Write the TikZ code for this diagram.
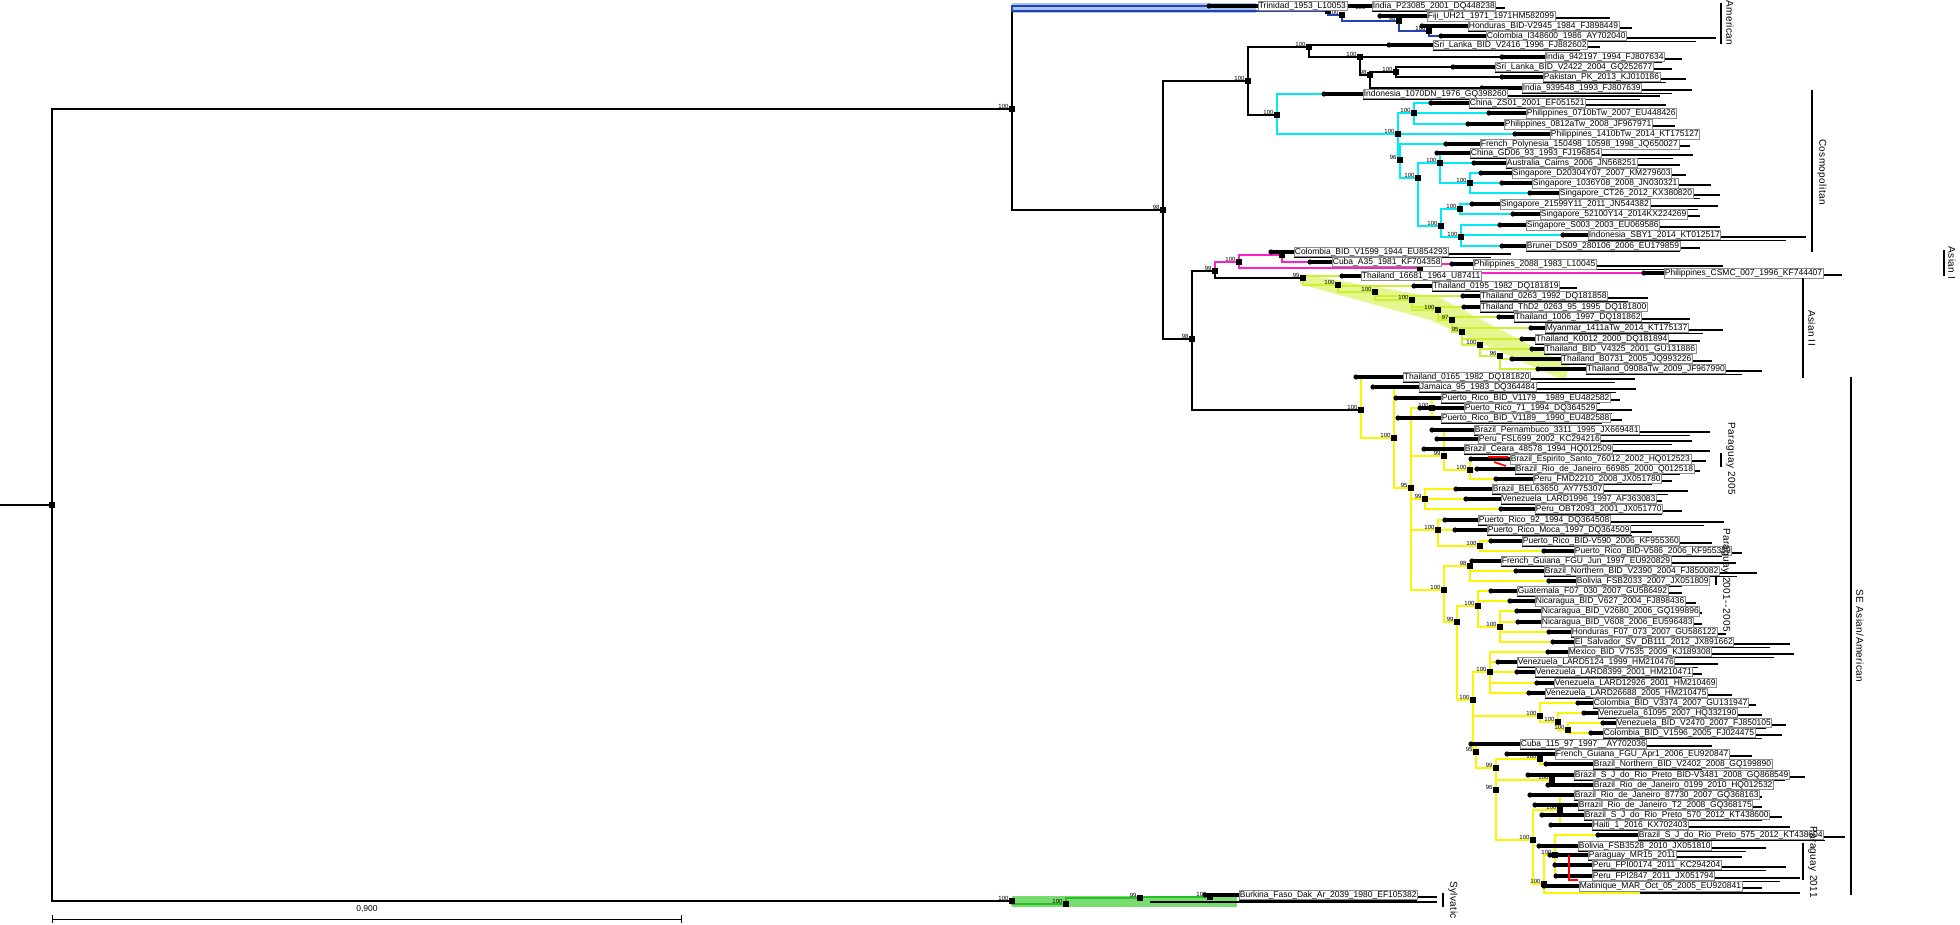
\documentclass[tikz,border=0pt]{standalone}
\usepackage{fontspec}
\setmainfont{Liberation Sans}
\newfontfamily\cladefont[LetterSpace=4]{Liberation Sans}
\pgfdeclarelayer{band}
\pgfdeclarelayer{edge}
\pgfdeclarelayer{bar}
\pgfsetlayers{band,edge,bar,main}
\definecolor{amblue}{RGB}{35,65,175}
\definecolor{amband}{RGB}{170,195,240}
\definecolor{coscyan}{RGB}{0,235,245}
\definecolor{asimag}{RGB}{255,30,200}
\definecolor{asiigrn}{RGB}{205,240,50}
\definecolor{seyel}{RGB}{250,245,0}
\definecolor{sylgrn}{RGB}{40,190,40}
\definecolor{sylband}{RGB}{120,220,110}

\begin{document}
\begin{tikzpicture}[
    x=1pt, y=-1pt, line join=miter,
    br/.style={line width=1.3pt},
    cl/.style={line width=1.8pt},
    sq/.style={fill=black, inner sep=0pt, minimum size=5.5pt},
    bs/.style={font=\fontsize{6}{6}\selectfont, inner sep=0.4pt, anchor=south east},
    tx/.style={font=\fontsize{8.5}{9}\selectfont, fill=white, draw=black!45, line width=0.3pt, inner sep=0.7pt, anchor=west},
    clade/.style={font=\cladefont\fontsize{10}{10}\selectfont, rotate=-90, anchor=south, inner sep=1pt},
    brk/.style={line width=1.5pt},
    ]
    \useasboundingbox (0,0) rectangle (1960,924);

    % 1. INTERNAL NODES AND SUPPORT VALUES
    \node[sq] (root) at (52,505) {};
    \coordinate (stub) at (0,505);
    \coordinate (nAm) at (1012,8);
    \node[sq] (a1) at (1328,11) {};
    \node[bs] (b-a1) at (1366,10) {100};
    \foreach \n/\x/\y/\b in {nTop/1012/109/100, nSyl/1012/901/100, nA98/1163/210/98, nIC/1248/81/100,
        nB98/1192/339/98, nInd/1309/47/100, nCos/1277/115/100, nAsI/1215/271/99, nAsII/1303/278/99,
        nMg/1239/262/100, a2/1342/15/100, a3/1399/21/98, a4/1429/31/100,
        i1/1360/57/100, i2/1370/75/98, i3/1396/72/100,
        c1/1398/134/100, c2/1414/113/100, c3/1400/160/96, c4/1418/178/100, c5/1440/163/100,
        c5a/1470/183/100, c6/1441/226/100, c7/1460/209/100, c8/1461/237/100,
        m1/1282/255/100, m2/1420/268/100,
        g1/1338/285/100, g2/1375/292/100, g3/1412/300/100, g4/1438/310/100, g5/1452/320/97,
        g6/1462/332/95, g7/1480/345/100, g8/1500/356/96,
        S0/1361/410/100, S1/1394/438/100, S2/1411/488/95, S3/1432/408/100, S4/1444/456/99,
        S4a/1470/470/100, S5/1425/499/99, S6/1438/530/100, S6a/1480/546/100, S7/1444/590/100,
        S8/1470/566/98, S9/1457/622/99, S10/1478/606/100, S10a/1500/627/100, S11/1473/700/100,
        S11a/1490/672/100, S12/1540/716/100, S12a/1558/722/100, S12b/1568/730/100, S13/1476/752/95,
        S15/1496/768/99, S16/1540/759/100, S17/1496/790/96, S18/1552/780/100, S19/1533/840/100,
        S19a/1560/810/100, S20/1544/884/100, S21/1555/855/100,
        y1/1066/904/100, y2/1140/898/99, y3/1210/897/100}{
        \node[sq] (\n) at (\x,\y) {};
        \node[bs] (b-\n) at (\n.west) {\b};
    }

    % 2. TAXA WITH THEIR TERMINAL BARS
    \foreach \x/\y/\t/\e [count=\n] in {
        1258/6/Trinidad\_1953\_L10053/0,
        1372/6/India\_P23085\_2001\_DQ448238/1505,
        1427/16/Fiji\_UH21\_1971\_1971HM582099/1610,
        1468/26/Honduras\_BID-V2945\_1984\_FJ898449/1632,
        1486/36/Colombia\_I348600\_1986\_AY702040/1716,
        1433/45/Sri\_Lanka\_BID\_V2416\_1996\_FJ882602/1600,
        1545/57/India\_942197\_1994\_FJ807634/1682,
        1495/67/Sri\_Lanka\_BID\_V2422\_2004\_GQ252677/1672,
        1543/77/Pakistan\_PK\_2013\_KJ010186/1686,
        1522/88/India\_939548\_1993\_FJ807639/1692,
        1363/94/Indonesia\_1070DN\_1976\_GQ398260/1660,
        1469/103/China\_ZS01\_2001\_EF051521/1666,
        1526/113/Philippines\_0710bTw\_2007\_EU448426/1662,
        1504/124/Philippines\_0812aTw\_2008\_JF967971/1675,
        1550/134/Philippines\_1410bTw\_2014\_KT175127/1600,
        1480/144/French\_Polynesia\_150498\_10598\_1998\_JQ650027/1690,
        1470/153/China\_GD06\_93\_1993\_FJ196854/1693,
        1506/163/Australia\_Cairns\_2006\_JN568251/1680,
        1512/173/Singapore\_D20304Y07\_2007\_KM279603/1686,
        1532/183/Singapore\_1036Y08\_2008\_JN030321/1711,
        1559/193/Singapore\_CT26\_2012\_KX380820/1720,
        1500/204/Singapore\_21599Y11\_2011\_JN544382/1718,
        1540/214/Singapore\_52100Y14\_2014KX224269/1700,
        1526/225/Singapore\_S003\_2003\_EU069586/1720,
        1588/235/Indonesia\_SBY1\_2014\_KT012517/1806,
        1526/246/Brunei\_DS09\_280106\_2006\_EU179859/1700,
        1294/252/Colombia\_BID\_V1599\_1944\_EU854293/1511,
        1332/262/Cuba\_A35\_1981\_KF704358/0,
        1473/264/Philippines\_2088\_1983\_L10045/1723,
        1664/273/Philippines\_CSMC\_007\_1996\_KF744407/1842,
        1361/276/Thailand\_16681\_1964\_U87411/0,
        1432/286/Thailand\_0195\_1982\_DQ181819/1577,
        1480/296/Thailand\_0263\_1992\_DQ181858/1648,
        1480/307/Thailand\_ThD2\_0263\_95\_1995\_DQ181800/1645,
        1514/317/Thailand\_1006\_1997\_DQ181862/1690,
        1545/328/Myanmar\_1411aTw\_2014\_KT175137/1723,
        1535/339/Thailand\_K0012\_2000\_DQ181894/1700,
        1544/349/Thailand\_BID\_V4325\_2001\_GU131886/1690,
        1561/359/Thailand\_B0731\_2005\_JQ993226/1712,
        1586/369/Thailand\_0908aTw\_2009\_JF967990/1762,
        1403/377/Thailand\_0165\_1982\_DQ181820/1635,
        1419/387/Jamaica\_95\_1983\_DQ364484/1636,
        1441/398/Puerto\_Rico\_BID\_V1179\_\_1989\_EU482582/1620,
        1464/408/Puerto\_Rico\_71\_1994\_DQ364529/1632,
        1441/418/Puerto\_Rico\_BID\_V1189\_\_1990\_EU482588/1622,
        1474/430/Brazil\_Pernambuco\_3311\_1995\_JX669481/1710,
        1478/439/Peru\_FSL699\_2002\_KC294216/1692,
        1464/449/Brazil\_Ceara\_48578\_1994\_HQ012509/1710,
        1510/459/Brazil\_Espirito\_Santo\_76012\_2002\_HQ012523/1706,
        1515/469/Brazil\_Rio\_de\_Janeiro\_66985\_2000\_Q012518/1700,
        1533/479/Peru\_FMD2210\_2008\_JX051780/1672,
        1492/489/Brazil\_BEL63650\_AY775307/1688,
        1501/499/Venezuela\_LARD1996\_1997\_AF363083/1662,
        1535/509/Peru\_OBT2093\_2001\_JX051770/1682,
        1478/520/Puerto\_Rico\_92\_1994\_DQ364508/1724,
        1487/530/Puerto\_Rico\_Moca\_1997\_DQ364509/1652,
        1522/541/Puerto\_Rico\_BID-V590\_2006\_KF955360/1712,
        1574/551/Puerto\_Rico\_BID-V586\_2006\_KF955359/1742,
        1501/561/French\_Guiana\_FGU\_Jun\_1997\_EU920829/1736,
        1544/571/Brazil\_Northern\_BID\_V2390\_2004\_FJ850082/1757,
        1576/581/Bolivia\_FSB2033\_2007\_JX051809/1702,
        1517/591/Guatemala\_F07\_030\_2007\_GU586492/1682,
        1535/601/Nicaragua\_BID\_V627\_2004\_FJ898436/1696,
        1541/611/Nicaragua\_BID\_V2680\_2006\_GQ199896/1702,
        1541/622/Nicaragua\_BID\_V608\_2006\_EU596483/1702,
        1571/632/Honduras\_F07\_073\_2007\_GU586122/1726,
        1574/642/El\_Salvador\_SV\_DB111\_2012\_JX891662/1790,
        1568/652/Mexico\_BID\_V7535\_2009\_KJ189308/1794,
        1517/662/Venezuela\_LARD5124\_1999\_HM210476/1718,
        1535/672/Venezuela\_LARD8399\_2001\_HM210471/1702,
        1554/683/Venezuela\_LARD12926\_2001\_HM210469/1712,
        1545/693/Venezuela\_LARD26688\_2005\_HM210475/1732,
        1593/703/Colombia\_BID\_V3374\_2007\_GU131947/1756,
        1598/713/Venezuela\_61095\_2007\_HQ332190/1762,
        1616/723/Venezuela\_BID\_V2470\_2007\_FJ850105/1786,
        1603/733/Colombia\_BID\_V1596\_2005\_FJ024475/1782,
        1520/744/Cuba\_115\_97\_1997\_\_AY702036/1712,
        1555/754/French\_Guiana\_FGU\_Apr1\_2006\_EU920847/1752,
        1593/764/Brazil\_Northern\_BID\_V2402\_2008\_GQ199890/1722,
        1574/775/Brazil\_S\_J\_do\_Rio\_Preto\_BID-V3481\_2008\_GQ868549/1805,
        1593/785/Brazil\_Rio\_de\_Janeiro\_0199\_2010\_HQ012532/1772,
        1574/795/Brazil\_Rio\_de\_Janeiro\_87730\_2007\_GQ368163/1762,
        1578/805/Brrazil\_Rio\_de\_Janeiro\_T2\_2008\_GQ368175/1762,
        1584/815/Brazil\_S\_J\_do\_Rio\_Preto\_570\_2012\_KT438600/1782,
        1592/825/Haiti\_1\_2016\_KX702403/1790,
        1638/835/Brazil\_S\_J\_do\_Rio\_Preto\_575\_2012\_KT438604/1845,
        1578/846/Bolivia\_FSB3528\_2010\_JX051810/1766,
        1588/855/Paraguay\_MR15\_2011/1742,
        1592/865/Peru\_FPI00174\_2011\_KC294204/1786,
        1592/876/Peru\_FPI2847\_2011\_JX051794/1800,
        1579/886/Matinique\_MAR\_Oct\_05\_2005\_EU920841/1762,
        1239/895/Burkina\_Faso\_Dak\_Ar\_2039\_1980\_EF105382/1437}{
        \node[tx] (t\n) at (\x,\y) {\t};
        \pgfmathtruncatemacro\dd{12+mod(\n*37,38)}
        \begin{pgfonlayer}{bar}
            \draw[line width=3.4pt] ({\x-\dd},\y) -- (\x,\y);
            \fill ({\x-\dd},\y) circle (2.6pt);
            \ifnum\e>\x\relax
                \draw[line width=2.6pt] (\x,\y+2) -- (\e,\y+2);
                \draw[line width=1.4pt] (\x,\y+5.5) -- (\e-20,\y+5.5);
            \fi
        \end{pgfonlayer}
    }

    % 3. BRANCHES
    \begin{pgfonlayer}{band}
        \fill[amband] (1012,3) rectangle (1256,13);
        \fill[sylband] (1012,896) rectangle (1237,907);
        \fill[asiigrn!55] (1300,274) -- (1440,298) -- (1570,366) -- (1565,381) -- (1430,320) -- (1300,284) -- cycle;
    \end{pgfonlayer}
    \begin{pgfonlayer}{edge}
        \draw[br] (stub) -- (root);
        \foreach \p/\c in {root/nTop, root/nSyl, nTop/nAm, nTop/nA98, nA98/nIC, nA98/nB98,
            nIC/nInd, nIC/nCos, nB98/nAsI, nB98/S0, nAsI/nAsII,
            nInd/t6.west, nInd/i1, i1/t7.west, i1/i2, i2/t10.west, i2/i3, i3/t8.west, i3/t9.west}
            \draw[br] (\p) |- (\c);
        % American
        \foreach \p/\c in {nAm/t1.west, nAm/a1, a1/t2.west, a1/a2, a2/a3, a3/t3.west, a3/a4,
            a4/t4.west, a4/t5.west}
            \draw[cl, amblue] (\p) |- (\c);
        % Cosmopolitan
        \foreach \p/\c in {nCos/t11.west, nCos/c1, c1/c2, c1/t15.west, c1/c3, c2/t12.west,
            c2/t13.west, c2/t14.west, c3/t16.west, c3/c4, c4/c5, c4/c6, c5/t17.west, c5/t18.west,
            c5/c5a, c5a/t19.west, c5a/t20.west, c5a/t21.west, c6/c7, c6/c8, c7/t22.west,
            c7/t23.west, c8/t24.west, c8/t25.west, c8/t26.west}
            \draw[cl, coscyan] (\p) |- (\c);
        % Asian I
        \foreach \p/\c in {nAsI/nMg, nMg/m1, nMg/m2, m1/t27.west, m1/t28.west, m2/t29.west, m2/t30.west}
            \draw[cl, asimag] (\p) |- (\c);
        % Asian II
        \foreach \p/\c in {nAsII/t31.west, nAsII/g1, g1/t32.west, g1/g2, g2/t33.west, g2/g3,
            g3/t34.west, g3/g4, g4/t35.west, g4/g5, g5/t36.west, g5/g6, g6/t37.west, g6/g7,
            g7/t38.west, g7/g8, g8/t39.west, g8/t40.west}
            \draw[cl, asiigrn] (\p) |- (\c);
        % SE Asian/American
        \coordinate (se-end) at (1640,893);
        \coordinate (se-bar) at (1800,893);
        \foreach \p/\c in {S0/t41.west, S0/S1, S1/t42.west, S1/S2, S2/S3, S2/S4, S2/S5, S2/S6, S2/S7,
            S3/t43.west, S3/t44.west, S3/t45.west, S4/t46.west, S4/t47.west, S4/t48.west, S4/S4a,
            S4a/t49.west, S4a/t50.west, S4a/t51.west, S5/t52.west, S5/t53.west, S5/t54.west,
            S6/t55.west, S6/t56.west, S6/S6a, S6a/t57.west, S6a/t58.west, S7/S8, S7/S9,
            S8/t59.west, S8/t60.west, S8/t61.west, S9/S10, S9/S11, S10/t62.west, S10/t63.west,
            S10/S10a, S10a/t64.west, S10a/t65.west, S10a/t66.west, S10a/t67.west,
            S11/S11a, S11/S12, S11/S13, S11a/t68.west, S11a/t69.west, S11a/t70.west,
            S11a/t71.west, S11a/t72.west, S12/t73.west, S12/S12a, S12a/t74.west, S12a/S12b,
            S12b/t75.west, S12b/t76.west, S13/t77.west, S13/S15, S15/S16, S15/S17, S16/t78.west,
            S16/t79.west, S17/S18, S17/S19, S18/t80.west, S18/t81.west, S19/S19a, S19/S20,
            S19a/t82.west, S19a/t83.west, S19a/t84.west, S19a/t85.west, S20/S21, S20/t91.west,
            S20/se-end, S21/t86.west, S21/t87.west, S21/t88.west, S21/t89.west, S21/t90.west}
            \draw[cl, seyel] (\p) |- (\c);
        % Sylvatic
        \foreach \p/\c in {nSyl/y1, y1/y2, y2/y3, y3/t92.west}
            \draw[cl, sylgrn] (\p) |- (\c);
    \end{pgfonlayer}
    \begin{pgfonlayer}{bar}
        \draw[line width=2.6pt] (se-end) -- (se-bar);
        \draw[line width=2.6pt] (1150,902) -- (1437,902);
        \draw[line width=1.6pt, red] (1488,457) -- (1508,457) (1494,462) -- (1506,466);
        \draw[line width=1.2pt, red] (1569,855) -- (1569,880) -- (1578,880);
    \end{pgfonlayer}

    % 4. CLADE BRACKETS
    \draw[brk] (1721,3) -- (1721,44);
    \node[clade] (lab-am) at (1725,23) {American};
    \draw[brk] (1812,90) -- (1812,252);
    \node[clade] (lab-cos) at (1816,172) {Cosmopolitan};
    \draw[brk] (1944,250) -- (1944,276);
    \node[clade] (lab-a1) at (1947,263) {Asian I};
    \draw[brk] (1803,278) -- (1803,378);
    \node[clade] (lab-a2) at (1807,328) {Asian II};
    \draw[brk] (1721,453) -- (1721,467);
    \node[clade] (lab-p05) at (1725,459) {Paraguay 2005};
    \draw[brk] (1716,577) -- (1716,585);
    \node[clade] (lab-p0105) at (1720,580) {Paraguay 2001--2005};
    \draw[brk] (1803,843) -- (1803,880);
    \node[clade] (lab-p11) at (1807,862) {Paraguay 2011};
    \draw[brk] (1851,377) -- (1851,895);
    \node[clade] (lab-se) at (1855,636) {SE Asian/American};
    \draw[brk] (1443,893) -- (1443,907);
    \node[clade] (lab-syl) at (1447,900) {Sylvatic};

    % 5. SCALE BAR
    \coordinate (sb-l) at (52,919);
    \coordinate (sb-r) at (682,919);
    \draw[line width=0.8pt, |-|] (sb-l) -- (sb-r);
    \node[font=\fontsize{8.5}{9}\selectfont] (sb-t) at (367,909) {0,900};
\end{tikzpicture}
\end{document}
